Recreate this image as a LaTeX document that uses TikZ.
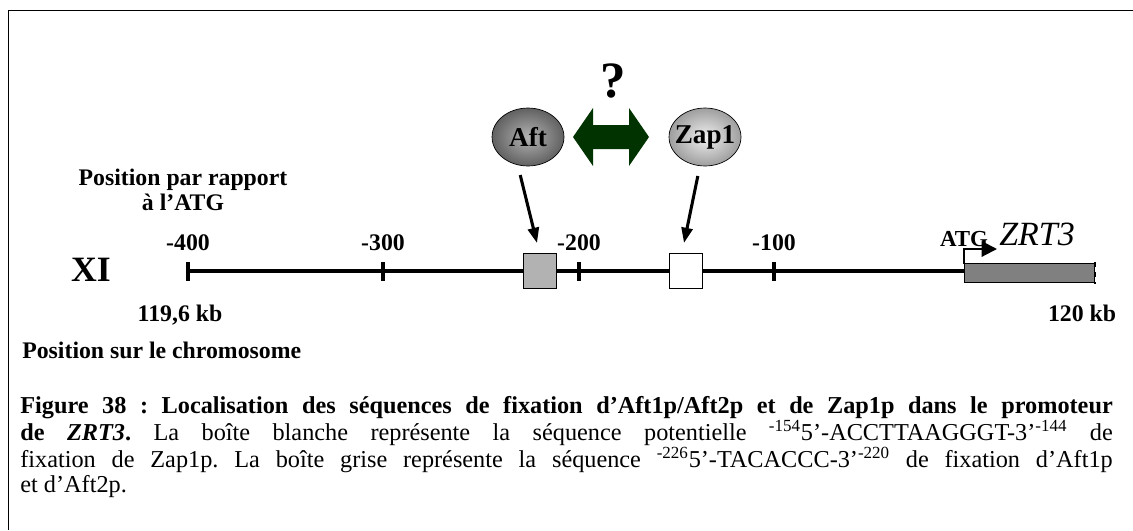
\documentclass[tikz,border=0pt]{standalone}
\usepackage{fontspec}
\setmainfont{Liberation Serif}
\usetikzlibrary{arrows.meta,shapes.geometric}
\definecolor{vertfonce}{RGB}{0,51,0}
\begin{document}
\begin{tikzpicture}[x=0.0207cm,y=-0.0207cm,
  etiquette/.style={font=\fontsize{14}{14.3}\selectfont\bfseries,inner sep=0pt,anchor=base},
  facteur/.style={draw,ellipse,inner sep=0pt,minimum width=1.49cm,minimum height=1.2cm,
    font=\fontsize{16}{18}\selectfont\bfseries},
  boite/.style={draw,thin,rectangle,inner sep=0pt,minimum width=0.68cm,minimum height=0.73cm},
  fleche/.style={-{Triangle[length=9pt,width=6.5pt]},line width=1.8pt},
  graduation/.style={line width=1.8pt}]
  \useasboundingbox (0,0) rectangle (1133,530);
  % cadre ouvert
  \draw[thin] (8,530)--(8,10)--(1133,10);
  % facteurs
  \node[facteur,shading=radial,inner color=black!30,outer color=black!62] (aft) at (528,137) {\makebox[0pt]{Aft}};
  \node[facteur,shading=radial,inner color=black!6,outer color=black!38] (zap) at (705,137) {\makebox[0pt]{Zap1}};
  \fill[vertfonce] (573,137)--(593,108)--(593,125)--(629,125)--(629,108)--(649,137)
    --(629,166)--(629,149)--(593,149)--(593,166)--cycle;
  \node[font=\fontsize{30}{32}\selectfont\bfseries,inner sep=0pt] (q) at (613,81) {?};
  % chromosome
  \coordinate (debut) at (188,271);
  \coordinate (atg) at (964,271);
  \draw[graduation] (debut)--(atg);
  \foreach \x/\lab in {188/-400,383/-300,579/-200,774/-100}{
    \draw[graduation] (\x,262)--(\x,281);
    \node[etiquette] at (\x,250) {\lab};}
  \node[boite,fill=black!30] (grise) at (540,271) {};
  \node[boite,fill=white] (blanche) at (686,271) {};
  \draw[thin,fill=black!50] (964,263) rectangle (1094,282);
  \draw[line width=1.5pt,dash pattern=on 3pt off 3pt] (1095,262)--(1095,284);
  \draw[line width=1.2pt,-{Triangle[length=9pt,width=9pt]}] (964,264)--(964,249)--(997,249);
  \node[etiquette,font=\fontsize{13.5}{15}\selectfont\bfseries] at (964,246) {ATG};
  \node[etiquette,anchor=base west,font=\fontsize{20}{22}\selectfont\itshape] at (999,245) {ZRT3};
  % fleches
  \coordinate (cibleA) at (537,243);
  \coordinate (cibleZ) at (684,243);
  \draw[fleche,shorten <=6pt] (aft.250) -- (cibleA);
  \draw[fleche,shorten <=6pt] (zap.260) -- (cibleZ);
  % textes
  \node[etiquette,align=center] at (183,210) {Position par rapport\\à l’ATG};
  \node[etiquette,font=\fontsize{21}{23}\selectfont\bfseries] at (91,281) {XI};
  \node[etiquette] at (180,321) {119,6 kb};
  \node[etiquette] at (1082,321) {120 kb};
  \node[etiquette,anchor=base west] at (22,358) {Position sur le chromosome};
  \node[anchor=north west,inner sep=0pt,text width=22.62cm,align=justify] (legende) at (20,396) {%
    \fontsize{14.3}{14.8}\selectfont\frenchspacing
    \textbf{Figure 38 : Localisation des séquences de fixation d’Aft1p/Aft2p et de Zap1p dans le promoteur}\linebreak
    \textbf{de \textit{ZRT3}.} La boîte blanche représente la séquence potentielle \textsuperscript{-154}5’-ACCTTAAGGGT-3’\textsuperscript{-144} de\linebreak
    fixation de Zap1p. La boîte grise représente la séquence \textsuperscript{-226}5’-TACACCC-3’\textsuperscript{-220} de fixation d’Aft1p\linebreak
    et d’Aft2p.\par};
\end{tikzpicture}
\end{document}
